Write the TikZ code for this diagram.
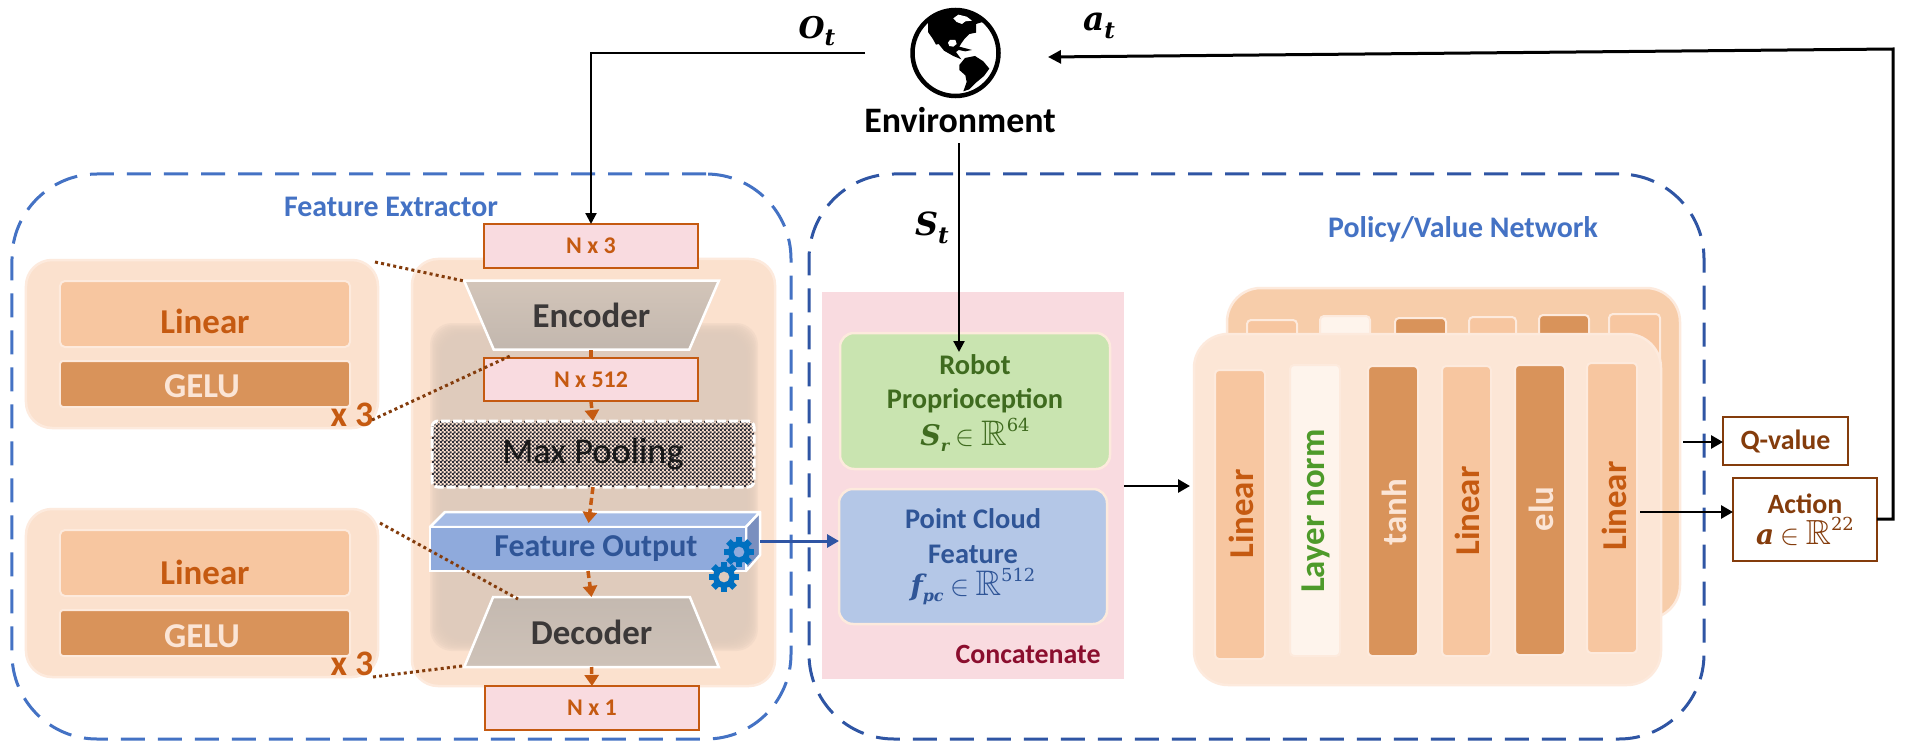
\documentclass[tikz,border=0pt]{standalone}
\usepackage{fontspec}
\usepackage{amssymb}
\usepackage{graphicx}
\setmainfont{Carlito}
\newfontfamily\dvs{DejaVu Serif}
\usetikzlibrary{arrows.meta,patterns,shapes.geometric}
\definecolor{fxblue}{HTML}{4472C4}
\definecolor{pvblue}{HTML}{2F55A4}
\definecolor{org}{HTML}{C55A11}
\definecolor{dotbr}{HTML}{843C0C}
\definecolor{pink}{HTML}{F9DBE0}
\definecolor{panel}{HTML}{FBE1CE}
\definecolor{panedge}{HTML}{FDEADD}
\definecolor{lin}{HTML}{F7C6A0}
\definecolor{gelu}{HTML}{D9935A}
\definecolor{geltxt}{HTML}{FBE5D6}
\definecolor{shadecol}{HTML}{DFCBBC}
\definecolor{dark}{HTML}{3B3838}
\definecolor{gearb}{HTML}{0070C0}
\definecolor{fofront}{HTML}{8FAADC}
\definecolor{fotop}{HTML}{A5BBE5}
\definecolor{foside}{HTML}{7A8FBF}
\definecolor{fotxt}{HTML}{2F5597}
\definecolor{rgreen}{HTML}{C9E4B0}
\definecolor{rtxt}{HTML}{3F6B1F}
\definecolor{pcb}{HTML}{B4C7E7}
\definecolor{concat}{HTML}{8B0E2E}
\definecolor{backp}{HTML}{F7CDAA}
\definecolor{frontp}{HTML}{FCE6D6}
\definecolor{lnorm}{HTML}{FEF4EC}
\definecolor{lngreen}{HTML}{4E9A2A}
\definecolor{enca}{HTML}{D3C5B9}
\definecolor{encb}{HTML}{C2B7AE}
\definecolor{deca}{HTML}{C4B9B0}
\definecolor{decb}{HTML}{CEC2B8}
\definecolor{chkdark}{HTML}{30303A}
\pgfdeclarepatternformonly{chk}{\pgfqpoint{0bp}{0bp}}{\pgfqpoint{4bp}{4bp}}{\pgfqpoint{4bp}{4bp}}{%
  \pgfpathrectangle{\pgfqpoint{0bp}{0bp}}{\pgfqpoint{2.4bp}{2.4bp}}%
  \pgfpathrectangle{\pgfqpoint{2bp}{2bp}}{\pgfqpoint{2.4bp}{2.4bp}}%
  \pgfusepath{fill}}
\newcommand\fs[1]{\fontsize{#1}{#1}\selectfont}
\newcommand\bsi[1]{{\dvs\bfseries\itshape #1}}
\newcommand\RR{\scalebox{1.25}{$\mathbb{R}$}}
\newcommand\IN{\scalebox{1.15}{$\in$}}
\newcommand\sbs[1]{\raisebox{-.22em}{\fs{16}\bsi{#1}}}
\newcommand\sps[1]{\raisebox{.5em}{\fs{18}\dvs\mdseries #1}}
\newcommand\bx[7][]{%
  \pgfmathsetmacro\bxx{(#3+#5)/2}\pgfmathsetmacro\bxy{(#4+#6)/2}%
  \pgfmathsetmacro\bxw{abs(#5-#3)}\pgfmathsetmacro\bxh{abs(#6-#4)}%
  \node[#1,minimum width=\bxw bp,minimum height=\bxh bp,inner sep=0pt,outer sep=0pt] (#2) at (\bxx,\bxy) {#7};}
\newcommand\gear[3]{%
  \fill[gearb,even odd rule] (#1,#2) circle[radius=11] (#1,#2) circle[radius=5.5];
  \foreach \a in {0,45,...,315}{\fill[gearb,rotate around={\a+#3:(#1,#2)}] (#1-3.2,#2-15) rectangle (#1+3.2,#2-9.5);}}
\tikzset{
  x=1bp,y=-1bp,
  panelbox/.style={fill=panel,draw=panedge,line width=2.5bp,rounded corners=26bp},
  lbox/.style={fill=lin,draw=panedge,line width=2bp,rounded corners=5bp},
  gbox/.style={fill=gelu,draw=panedge,line width=2bp,rounded corners=3bp},
  sizebox/.style={fill=pink,draw=org,line width=2.5bp,text=org,font=\fs{24}\bfseries},
  dashenv/.style={draw=#1,line width=3bp,dash pattern=on 24bp off 13bp,rounded corners=85bp},
  orgdash/.style={draw=org,line width=3.5bp,dash pattern=on 7bp off 4bp,-{Triangle[length=11bp,width=14bp]}},
  dotline/.style={draw=dotbr,line width=3bp,dash pattern=on 3bp off 3.2bp},
  blk/.style={draw=black,line width=2.2bp,-{Triangle[length=11bp,width=11bp]}},
  blkb/.style={draw=black,line width=2.8bp,-{Triangle[length=12bp,width=13bp]}},
  trap/.style={trapezium,trapezium stretches=true,trapezium left angle=#1,trapezium right angle=#1,draw=white,line width=2.5bp,inner sep=0pt,outer sep=0pt,text=dark,font=\fs{35}\bfseries},
  bar/.style={draw=panedge,line width=2bp,rounded corners=4bp},
  bartxt/.style={rotate=90,font=\fs{35}\bfseries},
  outb/.style={fill=white,draw=dotbr,line width=2.5bp,text=dotbr,font=\fs{28}\bfseries}
}
\begin{document}
\begin{tikzpicture}
\useasboundingbox (0,0) rectangle (1906,747);
\fill[white] (0,0) rectangle (1906,747);
% dashed envelopes
\bx[dashenv=fxblue]{fxenv}{12}{174}{791}{739}{}
\bx[dashenv=pvblue]{pvenv}{809}{174}{1704}{739}{}
\node[text=fxblue,font=\fs{30}\bfseries] (fxlab) at (391,207) {Feature Extractor};
\node[text=fxblue,font=\fs{30}\bfseries] (pvlab) at (1463,229) {Policy/Value Network};
% extractor panel
\bx[panelbox]{expanel}{412}{259}{775}{686}{}
\foreach \i in {0,...,9}{
  \fill[shadecol,opacity=.28,rounded corners=22bp] (430+\i*1.5,323+\i*1.5) rectangle (758-\i*1.5,651-\i*1.5);}
% left panels
\bx[panelbox]{lp1}{26}{260}{378}{428}{}
\bx[lbox]{l1}{60}{281}{350}{347}{}
\bx[gbox]{g1}{60}{361}{350}{407}{}
\node[text=org,font=\fs{35}\bfseries] (l1t) at (205,321) {Linear};
\node[text=geltxt,font=\fs{35}\bfseries] (g1t) at (202,386) {GELU};
\node[text=org,font=\fs{36}\bfseries] (x1) at (352,415) {x 3};
\bx[panelbox]{lp2}{26}{509}{378}{677}{}
\bx[lbox]{l2}{60}{530}{350}{596}{}
\bx[gbox]{g2}{60}{610}{350}{656}{}
\node[text=org,font=\fs{35}\bfseries] (l2t) at (205,572) {Linear};
\node[text=geltxt,font=\fs{35}\bfseries] (g2t) at (202,636) {GELU};
\node[text=org,font=\fs{36}\bfseries] (x2) at (352,664) {x 3};
% stack
\bx[sizebox]{n3}{484}{224}{698}{268}{N x 3}
\node[trap=54.2,shape border rotate=180,minimum width=255bp,minimum height=69bp,top color=enca,bottom color=encb] (enc) at (591.5,315) {Encoder};
\bx[sizebox]{n512}{484}{358}{698}{401}{N x 512}
\bx[preaction={fill=panel},pattern=chk,pattern color=chkdark,rounded corners=6bp]{maxp}{432}{421}{754}{487}{\color{black!90}\fs{36.5}Max Pooling}
\draw[white,line width=3bp,dash pattern=on 9bp off 3bp,rounded corners=6bp] (maxp.north west) rectangle (maxp.south east);
% feature output
\fill[fotop,draw=white,line width=2.5bp,line join=round] (430,527) -- (445,512) -- (760,512) -- (746,527) -- cycle;
\fill[foside,draw=white,line width=2.5bp,line join=round] (746,527) -- (760,512) -- (760,555) -- (746,571) -- cycle;
\bx[fill=fofront,draw=white,line width=2.5bp]{fo}{430}{527}{746}{571}{}
\node[text=fotxt,font=\fs{32}\bfseries] (fot) at (596,549) {Feature Output};
\coordinate (foright) at (760,541);
\gear{739}{552}{0}
\gear{724}{577}{0}
\node[trap=54.2,minimum width=255bp,minimum height=70bp,top color=deca,bottom color=decb] (dec) at (591.5,632) {Decoder};
\bx[sizebox]{n1}{485}{686}{699}{730}{N x 1}
% stack connectors
\coordinate (encbot) at (591,350);
\draw[draw=org,line width=3.5bp] (encbot) -- (encbot |- n512.north);
\draw[orgdash] (n512.south) -- (maxp.north);
\draw[orgdash,shorten >=4bp] (maxp.south) -- (fo.north);
\draw[orgdash] (fo.south) -- (dec.north);
\draw[orgdash] (dec.south) -- (n1.north);
% dotted leaders
\coordinate (lp1c) at (375,262);
\coordinate (enctl) at (464,281);
\coordinate (x1c) at (372,420);
\coordinate (n512c) at (510,356);
\coordinate (lp2c) at (380,523);
\coordinate (dectl) at (518,599);
\coordinate (x2c) at (373,677);
\coordinate (decbl) at (462,666);
\draw[dotline] (lp1c) -- (enctl);
\draw[dotline] (x1c) -- (n512c);
\draw[dotline] (lp2c) -- (dectl);
\draw[dotline] (x2c) -- (decbl);
% environment globe
\node[circle,minimum size=86bp,draw=black,line width=4.5bp,inner sep=0pt,outer sep=0pt] (globe) at (955.5,53) {};
\begin{scope}[shift={(900,0)},x=.3333bp,y=-.3333bp]
\fill[black] (84,58) -- (110,45) -- (135,34) -- (170,28) -- (205,32) -- (248,66) -- (228,72) -- (228,98) -- (208,102) -- (194,116) -- (184,130) -- (178,140) -- (216,150) -- (196,154) -- (176,150) -- (168,156) -- (184,178) -- (160,168) -- (132,152) -- (116,132) -- (108,134) -- (98,116) -- (84,96) -- cycle;
\fill[white] (160,55) -- (175,44) -- (200,50) -- (216,62) -- (196,64) -- (186,72) -- (170,66) -- cycle;
\fill[white] (144,128) -- (150,120) -- (166,120) -- (170,132) -- (160,140) -- (148,138) -- cycle;
\fill[black] (178,195) -- (195,174) -- (225,168) -- (250,184) -- (268,206) -- (252,228) -- (228,248) -- (208,268) -- (190,274) -- (200,246) -- (196,226) -- (178,210) -- cycle;
\end{scope}
\node[font=\fs{36}\bfseries,inner sep=0pt] (env) at (960,120) {Environment};
% policy side
\bx[fill=pink]{conc}{822}{292}{1124}{679}{}
\node[text=concat,font=\fs{28}\bfseries] (conct) at (1028,654) {Concatenate};
\bx[fill=rgreen,draw=panedge,line width=2.5bp,rounded corners=14bp]{robot}{840}{333}{1110}{469}{}
\node[text=rtxt,align=center,font=\fs{28.5}\bfseries] (robott) at (975,403) {Robot\\[6bp]Proprioception\\[4bp]\bsi{S}\sbs{r} \IN\ \RR\sps{64}};
\bx[fill=pcb,draw=panedge,line width=2.5bp,rounded corners=14bp]{pc}{839}{489}{1107}{624}{}
\node[text=fotxt,align=center,font=\fs{28.5}\bfseries] (pct) at (973,557) {Point Cloud\\[6bp]Feature\\[4bp]\bsi{f}\sbs{pc} \IN\ \RR\sps{512}};
% back network
\bx[fill=backp,draw=panedge,line width=2.5bp,rounded corners=34bp]{back}{1227}{288}{1680}{619}{}
\bx[bar,fill=lin]{t1}{1247}{320}{1297}{400}{}
\bx[bar,fill=lnorm]{t2}{1320}{316}{1370}{400}{}
\bx[bar,fill=gelu]{t3}{1395}{318}{1446}{400}{}
\bx[bar,fill=lin]{t4}{1469}{317}{1516}{400}{}
\bx[bar,fill=gelu]{t5}{1539}{315}{1589}{400}{}
\bx[bar,fill=lin]{t6}{1609}{314}{1660}{400}{}
% front network
\bx[fill=frontp,draw=panedge,line width=2.5bp,rounded corners=34bp]{front}{1194}{334}{1661}{685}{}
\bx[bar,fill=lin]{b1}{1215}{370}{1265}{659}{}
\bx[bar,fill=lnorm]{b2}{1290}{365}{1340}{656}{}
\bx[bar,fill=gelu]{b3}{1368}{366}{1418}{656}{}
\bx[bar,fill=lin]{b4}{1442}{366}{1491}{656}{}
\bx[bar,fill=gelu]{b5}{1515}{365}{1565}{655}{}
\bx[bar,fill=lin]{b6}{1587}{363}{1637}{653}{}
\node[bartxt,text=org] (b1t) at (1241,514) {Linear};
\node[bartxt,text=lngreen] (b2t) at (1316,511) {Layer norm};
\node[bartxt,text=geltxt] (b3t) at (1394,512) {tanh};
\node[bartxt,text=org] (b4t) at (1467,511) {Linear};
\node[bartxt,text=geltxt] (b5t) at (1541,509) {elu};
\node[bartxt,text=org] (b6t) at (1614,506) {Linear};
% outputs
\bx[outb]{qv}{1723}{417}{1848}{465}{Q-value}
\bx[outb,align=center]{act}{1733}{478}{1877}{561}{Action\\[3bp]\bsi{a} \IN\ \RR\sps{22}}
% connectors
\coordinate (otstart) at (865,53);
\draw[blk] (otstart) -- (otstart -| n3.north) -- (n3.north);
\coordinate (stend) at (959,143);
\coordinate (stgoal) at (959,352);
\draw[blk] (stend) -- (stgoal);
\draw[draw=pvblue,line width=3bp,-{Triangle[length=12bp,width=13bp]}] (foright) -- (foright -| pc.west);
\coordinate (concr) at (1124,486);
\coordinate (frontl) at (1190,486);
\draw[blkb] (concr) -- (frontl);
\coordinate (qs) at (1683,442);
\draw[blkb] (qs) -- (qs -| qv.west);
\coordinate (as) at (1640,512);
\draw[blkb] (as) -- (as -| act.west);
\coordinate (fbr) at (1893,519);
\coordinate (fbt) at (1893,49);
\coordinate (aend) at (1048,57);
\draw[draw=black,line width=3bp,-{Triangle[length=13bp,width=13bp]},line join=miter] (fbr -| act.east) -- (fbr) -- (fbt) -- (aend);
% labels
\node[inner sep=0pt] (ot) at (817,31) {\fs{30}\bsi{O}\raisebox{-.25em}{\fs{23}\bsi{t}}};
\node[inner sep=0pt] (st) at (932,228) {\fs{32}\bsi{S}\raisebox{-.25em}{\fs{23}\bsi{t}}};
\node[inner sep=0pt] (at) at (1099,26) {\fs{33}\bsi{a}\raisebox{-.25em}{\fs{23}\bsi{t}}};
\end{tikzpicture}
\end{document}
